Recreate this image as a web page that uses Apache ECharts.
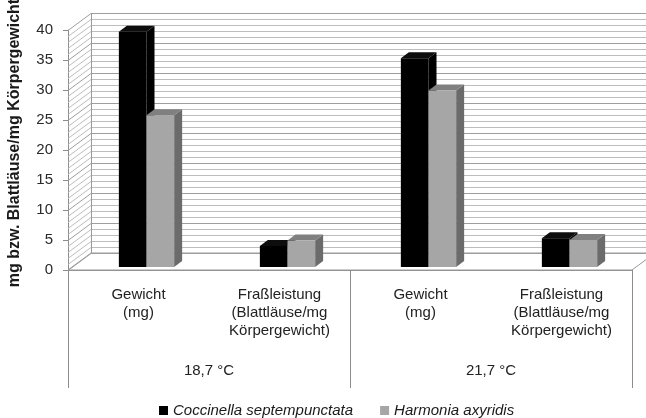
<!DOCTYPE html>
<html>
<head>
<meta charset="utf-8">
<script src="https://cdn.jsdelivr.net/npm/echarts@6/dist/echarts.min.js"></script>
<style>
html, body { margin: 0; padding: 0; background: #ffffff; }
#chart { width: 646px; height: 418px; }
</style>
</head>
<body>
<div id="chart"></div>
<script>
// Categories: measurement per temperature level
const categories = [
  'Gewicht\n(mg)',
  'Fraßleistung\n(Blattläuse/mg\nKörpergewicht)',
  'Gewicht\n(mg)',
  'Fraßleistung\n(Blattläuse/mg\nKörpergewicht)'
];
const temperatures = ['18,7 °C', '21,7 °C'];

// Series values
const coccinella = [39.2, 3.5, 34.8, 4.8];
const harmonia = [25.3, 4.4, 29.4, 4.5];

const FONT = '"Liberation Sans", Arial, sans-serif';
const DEPTH = [23, -17];     // depth of the 3D box (walls)
const BAR_DEPTH = [8, -6];   // depth of each bar

// Walls, floor and gridlines of the 3D box, drawn from the front value axis
function renderFrame(params, api) {
  const cs = params.coordSys;
  const left = cs.x, right = cs.x + cs.width;
  const dx = DEPTH[0], dy = DEPTH[1];
  const children = [];
  const y0 = api.coord([0, 0])[1];
  const yTop = api.coord([0, 40])[1];
  children.push({
    type: 'polygon',
    shape: { points: [[left, y0], [right, y0], [right + dx, y0 + dy], [left + dx, y0 + dy]] },
    style: { fill: '#ffffff', stroke: '#9a9a9a', lineWidth: 1 }
  });
  for (let v = 0; v <= 40; v++) {
    const y = Math.round(api.coord([0, v])[1]) + 0.5;
    const major = v % 5 === 0;
    const col = major ? '#9e9e9e' : '#bdbdbd';
    children.push({
      type: 'line',
      shape: { x1: left + dx, y1: y + dy, x2: right + dx + 10, y2: y + dy },
      style: { stroke: col, lineWidth: 1 }
    });
    children.push({
      type: 'line',
      shape: { x1: left, y1: y, x2: left + dx, y2: y + dy },
      style: { stroke: col, lineWidth: 1 }
    });
  }
  children.push({
    type: 'line',
    shape: { x1: left + dx + 0.5, y1: yTop + dy, x2: left + dx + 0.5, y2: y0 + dy },
    style: { stroke: '#9a9a9a', lineWidth: 1 }
  });
  return { type: 'group', children: children };
}

function makeBarRenderer(side, colors) {
  return function (params, api) {
    const idx = api.value(0), val = api.value(1);
    const top = api.coord([idx, val]);
    const base = api.coord([idx, 0]);
    const w = api.size([1, 0])[0] * 0.196;
    const x0 = side === 0 ? top[0] - w : top[0];
    const x1 = x0 + w;
    const dx = BAR_DEPTH[0], dy = BAR_DEPTH[1];
    return {
      type: 'group',
      children: [
        {
          type: 'polygon',
          shape: { points: [[x1, base[1]], [x1 + dx, base[1] + dy], [x1 + dx, top[1] + dy], [x1, top[1]]] },
          style: { fill: colors.side }
        },
        {
          type: 'polygon',
          shape: { points: [[x0, top[1]], [x0 + dx, top[1] + dy], [x1 + dx, top[1] + dy], [x1, top[1]]] },
          style: { fill: colors.top }
        },
        {
          type: 'rect',
          shape: { x: x0, y: top[1], width: w, height: base[1] - top[1] },
          style: { fill: colors.front }
        }
      ]
    };
  };
}

const chart = echarts.init(document.getElementById('chart'), null, { renderer: 'canvas' });

chart.setOption({
  animation: false,
  backgroundColor: '#ffffff',
  grid: [
    { left: 68, right: 14, top: 30, bottom: 148, outerBoundsMode: 'none' },
    { left: 76, right: 6, top: 27, bottom: 151, outerBoundsMode: 'none' }
  ],
  xAxis: [
    {
      gridIndex: 0, type: 'category', data: categories, boundaryGap: true,
      axisLine: { show: true, lineStyle: { color: '#8c8c8c', width: 1 } },
      axisTick: { show: false },
      axisLabel: { interval: 0, fontFamily: FONT, fontSize: 15, lineHeight: 18, color: '#222222', margin: 16 },
      splitLine: { show: false }
    },
    {
      gridIndex: 0, type: 'category', data: temperatures, boundaryGap: true, position: 'bottom',
      axisLine: { show: false },
      axisTick: { show: true, length: 118, lineStyle: { color: '#8c8c8c', width: 1 } },
      axisLabel: { interval: 0, fontFamily: FONT, fontSize: 15, color: '#222222', margin: 93 },
      splitLine: { show: false }
    },
    {
      gridIndex: 1, type: 'category', data: categories, boundaryGap: true, show: false
    }
  ],
  yAxis: [
    {
      gridIndex: 0, type: 'value', min: 0, max: 40, interval: 5,
      axisLine: { show: true, lineStyle: { color: '#8c8c8c', width: 1 } },
      axisTick: { show: true, length: 5, lineStyle: { color: '#8c8c8c' } },
      axisLabel: { fontFamily: FONT, fontSize: 15, color: '#2a2a2a', margin: 15 },
      splitLine: { show: false }
    },
    {
      gridIndex: 1, type: 'value', min: 0, max: 40, show: false
    }
  ],
  legend: {
    left: 154, top: 398,
    itemWidth: 9, itemHeight: 9, itemGap: 27, icon: 'rect',
    textStyle: { fontFamily: FONT, fontSize: 15, fontStyle: 'italic', color: '#1a1a1a' },
    data: ['Coccinella septempunctata', 'Harmonia axyridis']
  },
  graphic: [
    {
      type: 'text', x: 15, y: 143, rotation: Math.PI / 2,
      style: {
        text: 'mg bzw. Blattläuse/mg Körpergewicht',
        font: 'bold 16px ' + FONT, fill: '#1a1a1a',
        align: 'center', verticalAlign: 'middle'
      }
    }
  ],
  series: [
    {
      type: 'custom', name: 'frame', xAxisIndex: 0, yAxisIndex: 0, z: 1,
      data: [[0, 0]], encode: { x: 0, y: 1 }, silent: true,
      renderItem: renderFrame
    },
    {
      type: 'custom', name: 'Coccinella septempunctata', xAxisIndex: 2, yAxisIndex: 1, z: 3,
      itemStyle: { color: '#000000' },
      data: coccinella.map((v, i) => [i, v]), encode: { x: 0, y: 1 },
      renderItem: makeBarRenderer(0, { front: '#000000', top: '#0d0d0d', side: '#000000' })
    },
    {
      type: 'custom', name: 'Harmonia axyridis', xAxisIndex: 2, yAxisIndex: 1, z: 4,
      itemStyle: { color: '#a6a6a6' },
      data: harmonia.map((v, i) => [i, v]), encode: { x: 0, y: 1 },
      renderItem: makeBarRenderer(1, { front: '#a6a6a6', top: '#808080', side: '#6b6b6b' })
    }
  ]
});
</script>
</body>
</html>
